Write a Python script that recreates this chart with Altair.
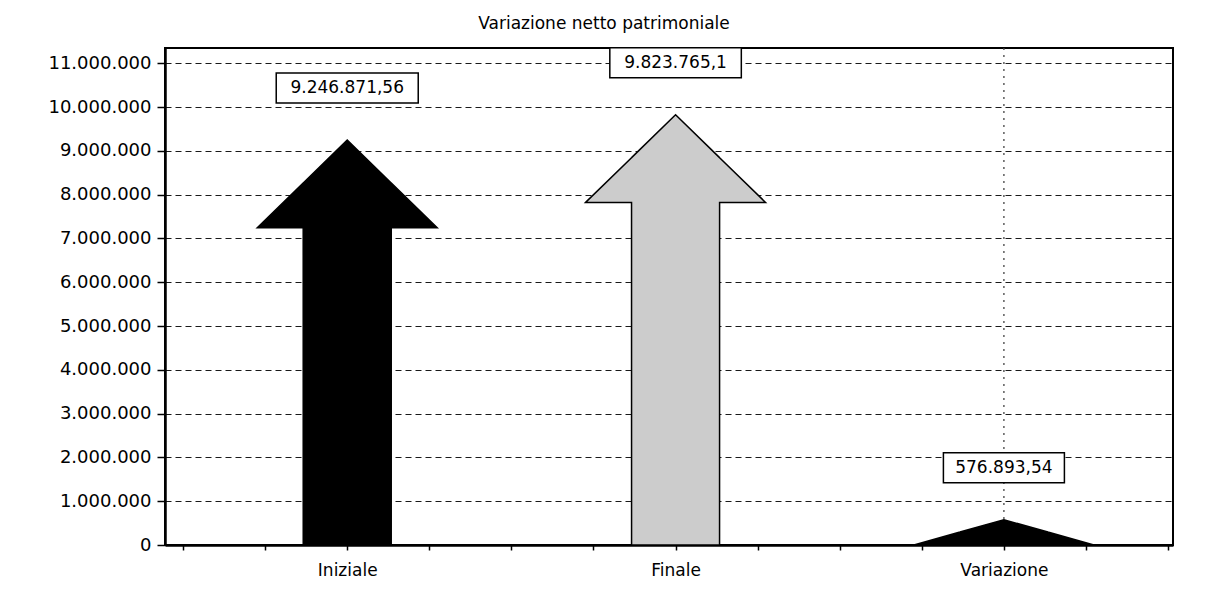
import altair as alt
import pandas as pd

# ---- data ----
categories = ["Iniziale", "Finale", "Variazione"]
values = [9246871.56, 9823765.1, 576893.54]
value_labels = ["9.246.871,56", "9.823.765,1", "576.893,54"]
y_tick_values = [0, 1000000, 2000000, 3000000, 4000000, 5000000, 6000000,
                 7000000, 8000000, 9000000, 10000000, 11000000]
x_tick_values = [-0.5, -0.25, 0, 0.25, 0.5, 0.75, 1, 1.25, 1.5, 1.75, 2, 2.25, 2.5]
fills = ["#000000", "#cccccc", "#000000"]

# arrow geometry (in axis units)
HEAD_H = 2000000.0   # arrow head height (value units)
HEAD_W = 0.274       # half width of the head (category units)
SHAFT_W = 0.134      # half width of the shaft
EPS = 1e-4

rows = []
for i, (c, v) in enumerate(zip(categories, values)):
    h = min(HEAD_H, v)
    b = v - h
    ys = b + h * (HEAD_W - SHAFT_W) / HEAD_W
    pts = [
        (i - HEAD_W, b, b),
        (i - SHAFT_W - EPS, ys, b),
        (i - SHAFT_W, ys, 0),
        (i, v, 0),
        (i + SHAFT_W, ys, 0),
        (i + SHAFT_W + EPS, ys, b),
        (i + HEAD_W, b, b),
    ]
    for k, (x, y, y2) in enumerate(pts):
        rows.append({"cat": c, "idx": k, "x": x, "y": y, "y2": y2})
arrow_df = pd.DataFrame(rows)

label_df = pd.DataFrame({
    "cat": categories,
    "pos": list(range(len(categories))),
    "value": values,
    "label": value_labels,
})

FONT = "DejaVu Sans"
xscale = alt.Scale(domain=[-0.555, 2.515], nice=False, zero=False)
yscale = alt.Scale(domain=[0, 11350000], nice=False)

x_label_expr = " : ".join(
    f"datum.value == {i} ? '{c}'" for i, c in enumerate(categories)
) + " : ''"

arrows = alt.Chart(arrow_df).mark_area(
    stroke="black", strokeWidth=1.5, interpolate="linear", opacity=1,
    orient="vertical",
).encode(
    x=alt.X("x:Q", scale=xscale, title=None,
            axis=alt.Axis(values=x_tick_values, labelExpr=x_label_expr,
                          grid=False, tickSize=5, tickColor="black",
                          tickWidth=1.5, domainColor="black", domainWidth=2.5,
                          labelFontSize=17, labelFont=FONT, labelColor="black",
                          labelPadding=12, labelFlush=False, labelOverlap=False)),
    y=alt.Y("y:Q", scale=yscale, title=None,
            axis=alt.Axis(values=y_tick_values,
                          labelExpr="replace(format(datum.value, ','), /,/g, '.')",
                          grid=True, gridColor="#1a1a1a", gridDash=[6, 4],
                          gridWidth=1.2, tickSize=8, tickColor="black",
                          tickWidth=1.5, domainColor="black", domainWidth=2.5,
                          labelFontSize=18, labelFont=FONT, labelColor="black",
                          labelPadding=6)),
    y2="y2:Q",
    color=alt.Color("cat:N", scale=alt.Scale(domain=categories, range=fills),
                    legend=None),
    detail="cat:N",
)

vline = alt.Chart(label_df).transform_filter(
    alt.datum.pos == 2
).mark_rule(color="#444444", strokeDash=[2, 5], strokeWidth=1.3).encode(
    x=alt.X("pos:Q", scale=xscale, title=None),
)

layers = [vline, arrows]
for i, lab in enumerate(value_labels):
    w = len(lab) * 10.5 + 16
    box = alt.Chart(label_df).transform_filter(
        alt.datum.pos == i
    ).mark_rect(
        fill="white", stroke="black", strokeWidth=1.5,
        xOffset=-w / 2, x2Offset=w / 2, yOffset=-67, y2Offset=-37,
    ).encode(
        x=alt.X("pos:Q", scale=xscale, title=None),
        x2="pos:Q",
        y=alt.Y("value:Q", scale=yscale, title=None),
        y2="value:Q",
    )
    layers.append(box)

texts = alt.Chart(label_df).mark_text(
    font=FONT, fontSize=17, color="black", dy=-52, baseline="middle",
    align="center",
).encode(
    x=alt.X("pos:Q", scale=xscale, title=None),
    y=alt.Y("value:Q", scale=yscale, title=None),
    text="label:N",
)
layers.append(texts)

chart = alt.layer(*layers).properties(
    width=1008,
    height=497,
    title=alt.TitleParams("Variazione netto patrimoniale", font=FONT,
                          fontSize=17, fontWeight="normal", color="black",
                          dx=-65, offset=14),
    autosize=alt.AutoSizeParams(type="none"),
    padding={"left": 157, "top": 40, "right": 20, "bottom": 50},
    background="white",
).configure_view(
    stroke="black", strokeWidth=2
)

chart.save("out.html", embed_options={"renderer": "svg", "actions": False})
